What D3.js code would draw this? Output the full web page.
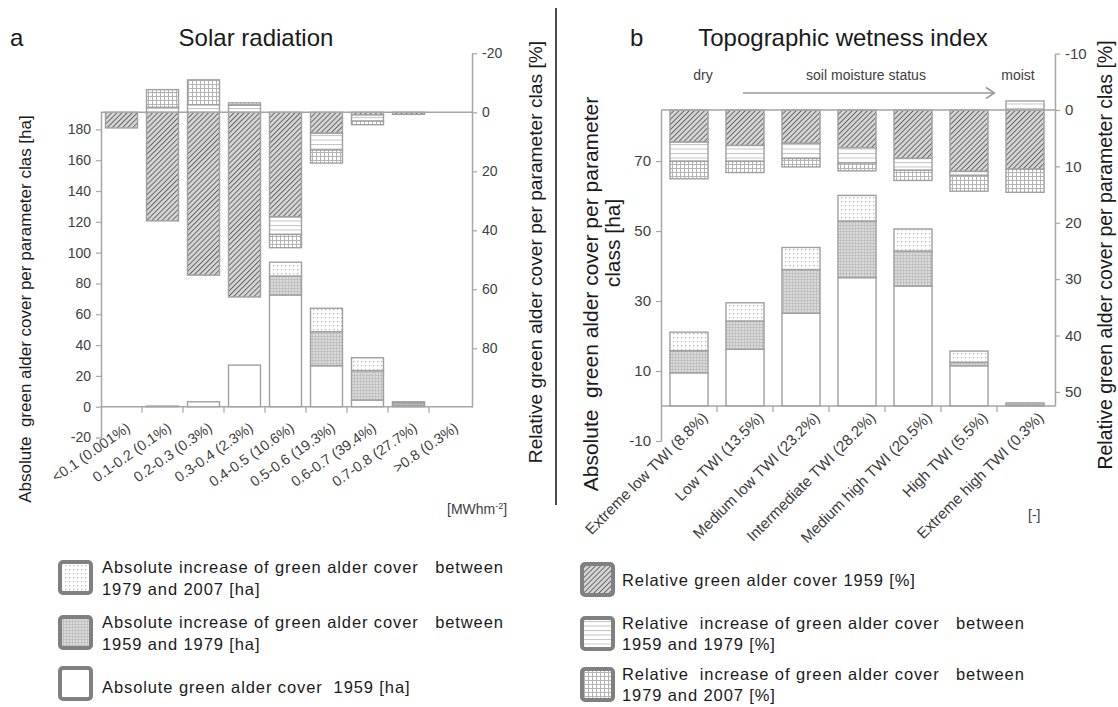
<!DOCTYPE html>
<html><head><meta charset="utf-8">
<script src="https://cdn.jsdelivr.net/npm/d3@7"></script>
<style>
html,body{margin:0;padding:0;background:#fff;}
svg{display:block;font-family:"Liberation Sans",Arial,sans-serif;}
text{white-space:pre;}
</style></head><body>
<svg id="chart" width="1118" height="707"></svg>
<script>
// ---- Panel a: solar radiation classes [MWh m-2] ----
const solarClasses = ["<0.1 (0.001%)","0.1-0.2 (0.1%)","0.2-0.3 (0.3%)","0.3-0.4 (2.3%)","0.4-0.5 (10.6%)","0.5-0.6 (19.3%)","0.6-0.7 (39.4%)","0.7-0.8 (27.7%)",">0.8 (0.3%)"];
const solarAbs1959 = [0, 0.4, 3.2, 27, 72.5, 26.6, 4.3, 1.0, 0];
const solarAbsInc1959to1979 = [0, 0, 0, 0, 12.3, 22.1, 19.1, 1.5, 0];
const solarAbsInc1979to2007 = [0, 0, 0, 0, 9.0, 15.2, 8.4, 0.7, 0];
const solarRel1959 = [5.3, 36.8, 55.2, 62.6, 35.5, 7.1, 0.9, 0.7, 0];
const solarRelInc1959to1979 = [0, -1.7, -2.6, -2.4, 5.9, 5.7, 2.1, 0, 0];
const solarRelInc1979to2007 = [0, -6.0, -8.4, -0.8, 4.5, 4.4, 1.2, 0, 0];
const solarAbsTicks = [-20, 0, 20, 40, 60, 80, 100, 120, 140, 160, 180];
const solarRelTicks = [-20, 0, 20, 40, 60, 80];

// ---- Panel b: topographic wetness index classes ----
const twiClasses = ["Extreme low TWI (8.8%)","Low TWI (13.5%)","Medium low TWI (23.2%)","Intermediate TWI (28.2%)","Medium high TWI (20.5%)","High TWI (5.5%)","Extreme high TWI (0.3%)"];
const twiAbs1959 = [9.5, 16.2, 26.5, 36.7, 34.3, 11.5, 0.3];
const twiAbsInc1959to1979 = [6.3, 8.1, 12.5, 16.2, 10.0, 1.0, 0.6];
const twiAbsInc1979to2007 = [5.3, 5.2, 6.3, 7.3, 6.3, 3.2, 0];
const twiRel1959 = [5.7, 6.3, 5.9, 6.7, 8.6, 10.9, 10.5];
const twiRelInc1959to1979 = [3.4, 2.8, 2.7, 2.7, 2.1, 0.7, -1.6];
const twiRelInc1979to2007 = [3.1, 2.0, 1.5, 1.4, 1.8, 2.8, 4.1];
const twiAbsTicks = [-10, 10, 30, 50, 70];
const twiRelTicks = [-10, 0, 10, 20, 30, 40, 50];

const svg = d3.select("#chart");
const AXIS = "#a6a6a6", LABEL = "#404040", BAR_STROKE = "#a0a0a0";

// ---- fill patterns ----
const defs = svg.append("defs");
function pattern(id, w, h, build, angle) {
  const p = defs.append("pattern").attr("id", id).attr("patternUnits", "userSpaceOnUse")
    .attr("width", w).attr("height", h);
  if (angle) p.attr("patternTransform", `rotate(${angle})`);
  build(p);
}
pattern("hatch", 3.6, 3.6, p => {
  p.append("rect").attr("width", 3.6).attr("height", 3.6).attr("fill", "#d4d4d4");
  p.append("line").attr("x1", 0).attr("y1", 0).attr("x2", 0).attr("y2", 3.6)
    .attr("stroke", "#4a4a4a").attr("stroke-width", 1.5);
}, 45);
pattern("hlines", 5, 4.5, p => {
  p.append("rect").attr("width", 5).attr("height", 4.5).attr("fill", "#fff");
  p.append("line").attr("x1", 0).attr("y1", 0.5).attr("x2", 5).attr("y2", 0.5)
    .attr("stroke", "#c4c4c4").attr("stroke-width", 1);
});
pattern("grid", 4, 4, p => {
  p.append("rect").attr("width", 4).attr("height", 4).attr("fill", "#fff");
  p.append("path").attr("d", "M0,0.5H4M0.5,0V4").attr("stroke", "#b4b4b4").attr("stroke-width", 1);
});
pattern("dots", 4, 4, p => {
  p.append("rect").attr("width", 4).attr("height", 4).attr("fill", "#fff");
  p.append("rect").attr("x", 1).attr("y", 1).attr("width", 1.3).attr("height", 1.3).attr("fill", "#b8b8b8");
});
pattern("graygrid", 3, 3, p => {
  p.append("rect").attr("width", 3).attr("height", 3).attr("fill", "#dadada");
  p.append("path").attr("d", "M0,0.5H3M0.5,0V3").attr("stroke", "#bdbdbd").attr("stroke-width", 0.8);
});

const absFills = ["#fff", "url(#graygrid)", "url(#dots)"];
const relFills = ["url(#hatch)", "url(#hlines)", "url(#grid)"];

function drawPanel(cfg) {
  const g = svg.append("g");
  const x = d3.scaleBand().domain(cfg.classes).range([cfg.x0, cfg.x1])
    .paddingInner(cfg.pad).paddingOuter(cfg.pad / 2);
  const yAbs = d3.scaleLinear().domain(cfg.absDomain).range(cfg.absRange);
  const yRel = d3.scaleLinear().domain(cfg.relDomain).range(cfg.relRange);

  const keys = ["a", "b", "c"];
  const absRows = cfg.classes.map((c, i) => ({cls: c, a: cfg.abs[0][i], b: cfg.abs[1][i], c: cfg.abs[2][i]}));
  const relRows = cfg.classes.map((c, i) => ({cls: c, a: cfg.rel[0][i], b: cfg.rel[1][i], c: cfg.rel[2][i]}));
  const stack = d3.stack().keys(keys).offset(d3.stackOffsetDiverging);

  function bars(series, y, fills) {
    series.forEach((s, k) => {
      g.append("g").selectAll("rect").data(s.filter(d => d[1] !== d[0])).join("rect")
        .attr("x", d => x(d.data.cls))
        .attr("width", x.bandwidth())
        .attr("y", d => Math.min(y(d[0]), y(d[1])))
        .attr("height", d => Math.abs(y(d[1]) - y(d[0])))
        .attr("fill", fills[k])
        .attr("stroke", BAR_STROKE).attr("stroke-width", 1.4);
    });
  }
  bars(stack(relRows), yRel, relFills);
  bars(stack(absRows), yAbs, absFills);

  // relative zero line across the plot
  g.append("line").attr("x1", cfg.x0).attr("x2", cfg.x1 + 2)
    .attr("y1", yRel(0)).attr("y2", yRel(0)).attr("stroke", AXIS).attr("stroke-width", 1.5);
  // absolute zero line (category axis)
  g.append("line").attr("x1", cfg.x0).attr("x2", cfg.x1 + 2)
    .attr("y1", yAbs(0)).attr("y2", yAbs(0)).attr("stroke", AXIS).attr("stroke-width", 1.5);
  const bounds = cfg.classes.map(c => x(c) - x.step() * cfg.pad / 2).slice(1);
  g.append("g").selectAll("line").data(bounds).join("line")
    .attr("x1", d => d).attr("x2", d => d).attr("y1", yAbs(0)).attr("y2", yAbs(0) + 6)
    .attr("stroke", AXIS).attr("stroke-width", 1.2);

  const fmt = d => String(d);
  // left (absolute) axis
  const la = g.append("g").attr("transform", `translate(${cfg.x0},0)`)
    .call(d3.axisLeft(yAbs).tickValues(cfg.absTicks).tickFormat(fmt).tickSize(5).tickSizeOuter(0).tickPadding(5));
  // right (relative) axis
  const ra = g.append("g").attr("transform", `translate(${cfg.x1 + 2},0)`)
    .call(d3.axisRight(yRel).tickValues(cfg.relTicks).tickFormat(fmt).tickSize(5).tickSizeOuter(0).tickPadding(5));
  [la, ra].forEach(a => {
    a.select(".domain").attr("stroke", AXIS).attr("stroke-width", 1.5);
    a.selectAll(".tick line").attr("stroke", AXIS).attr("stroke-width", 1.2);
    a.selectAll(".tick text").attr("fill", LABEL).style("font-size", cfg.tickFont + "px")
      .style("font-family", '"Liberation Sans",Arial,sans-serif');
  });

  // rotated category labels
  g.append("g").selectAll("text").data(cfg.classes).join("text")
    .attr("transform", c => `translate(${x(c) + x.bandwidth() / 2 + cfg.labDx},${yAbs(0) + cfg.labDy}) rotate(${cfg.labAngle})`)
    .attr("text-anchor", "end").attr("dy", "0.7em")
    .attr("fill", LABEL).style("font-size", cfg.catFont + "px").text(c => c);
  return {g, x, yAbs, yRel};
}

// ---- panel a ----
drawPanel({
  classes: solarClasses, x0: 101, x1: 470, pad: 0.22,
  absDomain: [-20, 191.5], absRange: [437.5, 111.7],
  relDomain: [-20, 100], relRange: [53.3, 407.3],
  abs: [solarAbs1959, solarAbsInc1959to1979, solarAbsInc1979to2007],
  rel: [solarRel1959, solarRelInc1959to1979, solarRelInc1979to2007],
  absTicks: solarAbsTicks, relTicks: solarRelTicks,
  tickFont: 14, catFont: 14.5, labAngle: -35, labDx: 4, labDy: 15
});

// ---- panel b ----
drawPanel({
  classes: twiClasses, x0: 661, x1: 1053, pad: 0.32,
  absDomain: [-10, 84.6], absRange: [441, 110],
  relDomain: [-10, 52.5], relRange: [53.6, 406],
  abs: [twiAbs1959, twiAbsInc1959to1979, twiAbsInc1979to2007],
  rel: [twiRel1959, twiRelInc1959to1979, twiRelInc1979to2007],
  absTicks: twiAbsTicks, relTicks: twiRelTicks,
  tickFont: 15, catFont: 15.3, labAngle: -45, labDx: 12, labDy: 5
});

// ---- titles and axis titles ----
function txt(x, y, s, size, opts = {}) {
  const t = svg.append("text").attr("x", x).attr("y", y).style("font-size", size + "px")
    .attr("fill", opts.fill || "#1a1a1a").attr("text-anchor", opts.anchor || "start").text(s);
  if (opts.rotate) t.attr("transform", `rotate(${opts.rotate},${x},${y})`);
  if (opts.ls) t.style("letter-spacing", opts.ls + "px");
  return t;
}
txt(10, 46, "a", 24);
txt(256, 46, "Solar radiation", 24, {anchor: "middle"});
txt(630, 46, "b", 24);
txt(843, 46, "Topographic wetness index", 24, {anchor: "middle"});

txt(31, 309, "Absolute  green alder cover per parameter clas [ha]", 17, {anchor: "middle", rotate: -90});
txt(542, 252, "Relative green alder cover per parameter clas [%]", 19.2, {anchor: "middle", rotate: -90});
txt(598, 294, "Absolute  green alder cover per parameter", 21, {anchor: "middle", rotate: -90});
txt(620, 243, "class [ha]", 21, {anchor: "middle", rotate: -90});
txt(1112, 255, "Relative green alder cover per parameter clas [%]", 19.5, {anchor: "middle", rotate: -90});

// unit labels
const unit = svg.append("text").attr("x", 447).attr("y", 514).style("font-size", "14px").attr("fill", LABEL);
unit.append("tspan").text("[MWhm");
unit.append("tspan").attr("dy", -5).style("font-size", "9px").text("-2");
unit.append("tspan").attr("dy", 5).text("]");
txt(1028, 520, "[-]", 14, {fill: LABEL});

// soil moisture annotation
txt(703, 80, "dry", 14, {anchor: "middle", fill: LABEL});
txt(866, 80, "soil moisture status", 14, {anchor: "middle", fill: LABEL});
txt(1018, 80, "moist", 14, {anchor: "middle", fill: LABEL});
svg.append("line").attr("x1", 743).attr("x2", 994).attr("y1", 93).attr("y2", 93)
  .attr("stroke", "#9a9a9a").attr("stroke-width", 1.5);
svg.append("path").attr("d", "M986,87.5L994.5,93L986,98.5").attr("fill", "none")
  .attr("stroke", "#9a9a9a").attr("stroke-width", 1.5);

// panel divider
svg.append("line").attr("x1", 556).attr("x2", 556).attr("y1", 8).attr("y2", 505)
  .attr("stroke", "#111").attr("stroke-width", 1.5);

// ---- legend ----
const legendLeft = [
  {fill: "url(#dots)", lines: ["Absolute increase of green alder cover   between", "1979 and 2007 [ha]"], y: 562, base: [573, 595]},
  {fill: "url(#graygrid)", lines: ["Absolute increase of green alder cover   between", "1959 and 1979 [ha]"], y: 617, base: [628, 650]},
  {fill: "#fff", lines: ["Absolute green alder cover  1959 [ha]"], y: 668, base: [693]}
];
const legendRight = [
  {fill: "url(#hatch)", lines: ["Relative green alder cover 1959 [%]"], y: 564, base: [586]},
  {fill: "url(#hlines)", lines: ["Relative  increase of green alder cover   between", "1959 and 1979 [%]"], y: 618, base: [629, 650]},
  {fill: "url(#grid)", lines: ["Relative  increase of green alder cover   between", "1979 and 2007 [%]"], y: 669, base: [680, 701]}
];
function legend(items, sx, tx) {
  items.forEach(it => {
    svg.append("rect").attr("x", sx).attr("y", it.y).attr("width", 31).attr("height", 31).attr("rx", 3)
      .attr("fill", it.fill).attr("stroke", "#808080").attr("stroke-width", 4);
    it.lines.forEach((l, i) => txt(tx, it.base[i], l, 16.5, {ls: 0.9}));
  });
}
legend(legendLeft, 60, 102);
legend(legendRight, 582, 622);
</script>
</body></html>
